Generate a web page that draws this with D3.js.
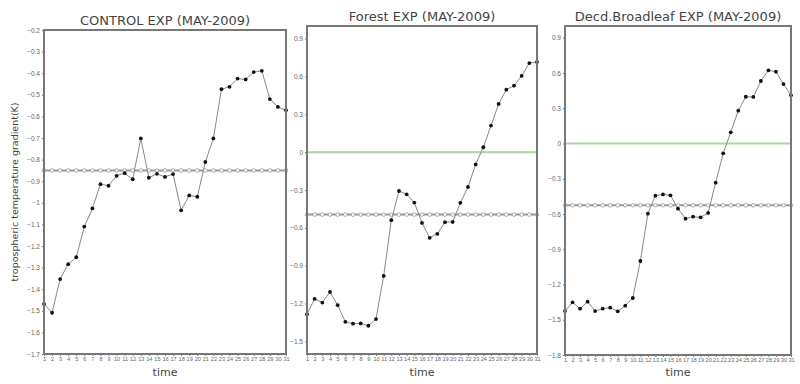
<!DOCTYPE html>
<html>
<head>
<meta charset="utf-8">
<script src="https://cdn.jsdelivr.net/npm/d3@7"></script>
<style>
  body { margin: 0; background: #fff; }
  svg { display: block; font-family: "DejaVu Sans", sans-serif; }
</style>
</head>
<body>
<svg width="800" height="384"></svg>
<script>
// Data
const days = [1,2,3,4,5,6,7,8,9,10,11,12,13,14,15,16,17,18,19,20,21,22,23,24,25,26,27,28,29,30,31];

const controlVals = [-1.468,-1.509,-1.353,-1.284,-1.252,-1.110,-1.026,-0.914,-0.921,-0.875,-0.863,-0.891,-0.702,-0.884,-0.866,-0.880,-0.867,-1.035,-0.966,-0.972,-0.811,-0.702,-0.474,-0.463,-0.425,-0.429,-0.395,-0.389,-0.520,-0.556,-0.571];
const forestVals = [-1.284,-1.163,-1.192,-1.108,-1.213,-1.345,-1.360,-1.358,-1.376,-1.323,-0.981,-0.539,-0.308,-0.334,-0.400,-0.561,-0.679,-0.647,-0.555,-0.553,-0.402,-0.276,-0.097,0.039,0.211,0.382,0.495,0.527,0.605,0.706,0.714];
const decdVals = [-1.426,-1.352,-1.406,-1.346,-1.426,-1.406,-1.397,-1.428,-1.380,-1.315,-1.000,-0.597,-0.444,-0.433,-0.441,-0.555,-0.640,-0.623,-0.628,-0.591,-0.333,-0.084,0.095,0.279,0.398,0.396,0.532,0.623,0.611,0.506,0.410];

const titles = ["CONTROL EXP (MAY-2009)", "Forest EXP (MAY-2009)", "Decd.Broadleaf EXP (MAY-2009)"];
const means = [-0.85, -0.495, -0.526];
const controlTicks = [-1.7,-1.6,-1.5,-1.4,-1.3,-1.2,-1.1,-1,-0.9,-0.8,-0.7,-0.6,-0.5,-0.4,-0.3,-0.2];
const forestTicks = [-1.5,-1.2,-0.9,-0.6,-0.3,0,0.3,0.6,0.9];
const decdTicks = [-1.8,-1.5,-1.2,-0.9,-0.6,-0.3,0,0.3,0.6,0.9];

// Panel layout
const panels = [
  { vals: controlVals, title: titles[0], mean: means[0], ticks: controlTicks, domain: [-1.7, -0.2],
    box: { l: 44, r: 286, t: 30, b: 354 }, zero: false },
  { vals: forestVals, title: titles[1], mean: means[1], ticks: forestTicks, domain: [-1.6, 1.0],
    box: { l: 307, r: 537, t: 26, b: 354 }, zero: true },
  { vals: decdVals, title: titles[2], mean: means[2], ticks: decdTicks, domain: [-1.8, 1.0],
    box: { l: 565, r: 791, t: 26, b: 355 }, zero: true }
];

const svg = d3.select("svg");
const fmt = v => (v === 0 ? "0" : d3.format("")(+v.toFixed(1))).replace("-", "\u2212");

panels.forEach(p => {
  const b = p.box;
  const x = d3.scaleLinear().domain([1, 31]).range([b.l, b.r]);
  const y = d3.scaleLinear().domain(p.domain).range([b.b, b.t]);
  const g = svg.append("g");

  // y axis
  const ya = g.append("g")
    .attr("transform", `translate(${b.l},0)`)
    .call(d3.axisLeft(y).tickValues(p.ticks).tickSize(2).tickPadding(2).tickFormat(fmt));
  ya.select(".domain").remove();
  ya.selectAll("line").attr("stroke", "#777");
  ya.selectAll("text").attr("font-size", 6.5).attr("fill", "#666");

  // x axis
  const xa = g.append("g")
    .attr("transform", `translate(0,${b.b})`)
    .call(d3.axisBottom(x).tickValues(days).tickSize(2).tickPadding(1.5).tickFormat(d3.format("d")));
  xa.select(".domain").remove();
  xa.selectAll("line").attr("stroke", "#777");
  xa.selectAll("text").attr("font-size", 5.6).attr("fill", "#666");

  // zero line
  if (p.zero) {
    g.append("line")
      .attr("x1", b.l).attr("x2", b.r)
      .attr("y1", y(0)).attr("y2", y(0))
      .attr("stroke", "#a8d8a0").attr("stroke-width", 2);
  }

  // mean line with open circles
  g.append("line")
    .attr("x1", b.l).attr("x2", b.r)
    .attr("y1", y(p.mean)).attr("y2", y(p.mean))
    .attr("stroke", "#999").attr("stroke-width", 2);
  g.selectAll(".mc").data(days).join("circle")
    .attr("cx", d => x(d)).attr("cy", y(p.mean)).attr("r", 1.8)
    .attr("fill", "#fff").attr("stroke", "#999").attr("stroke-width", 0.8);

  // data line
  const line = d3.line().x((d, i) => x(days[i])).y(d => y(d));
  g.append("path")
    .attr("d", line(p.vals))
    .attr("fill", "none").attr("stroke", "#888").attr("stroke-width", 1);
  g.selectAll(".dp").data(p.vals).join("circle")
    .attr("cx", (d, i) => x(days[i])).attr("cy", d => y(d)).attr("r", 1.9)
    .attr("fill", "#111");

  // frame
  g.append("rect")
    .attr("x", b.l).attr("y", b.t)
    .attr("width", b.r - b.l).attr("height", b.b - b.t)
    .attr("fill", "none").attr("stroke", "#777").attr("stroke-width", 2);

  // title
  g.append("text")
    .attr("x", (b.l + b.r) / 2).attr("y", b.t - 5)
    .attr("text-anchor", "middle").attr("font-size", 13)
    .attr("fill", "#444")
    .text(p.title);

  // x label
  g.append("text")
    .attr("x", (b.l + b.r) / 2).attr("y", 376)
    .attr("text-anchor", "middle").attr("font-size", 11).attr("fill", "#444")
    .text("time");
});

// y label
svg.append("text")
  .attr("transform", "translate(18,192) rotate(-90)")
  .attr("text-anchor", "middle").attr("font-size", 9.5).attr("fill", "#444")
  .text("tropospheric temperature gradient(K)");
</script>
</body>
</html>
